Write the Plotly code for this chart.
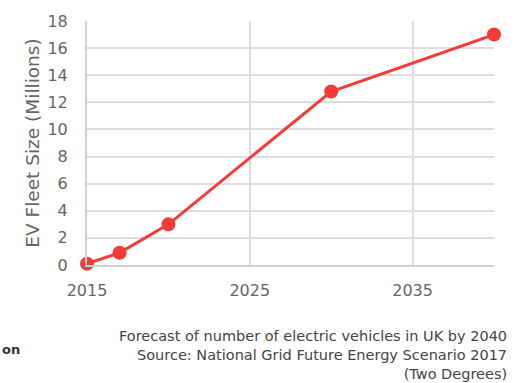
import plotly.graph_objects as go

years = [2015, 2017, 2020, 2030, 2040]
fleet_millions = [0.1, 0.9, 3.0, 12.8, 17.0]
x_ticks = [2015, 2025, 2035]
y_ticks = [0, 2, 4, 6, 8, 10, 12, 14, 16, 18]
caption = ("Forecast of number of electric vehicles in UK by 2040<br>"
           "Source: National Grid Future Energy Scenario 2017<br>"
           "(Two Degrees)")

RED = "#f43b38"
GRID = "#dddddd"
TICK = "#666666"
FONT = "DejaVu Sans"

fig = go.Figure()
fig.add_trace(go.Scatter(
    x=years, y=fleet_millions, mode="lines+markers",
    line=dict(color=RED, width=3),
    marker=dict(color=RED, size=14),
    cliponaxis=False, showlegend=False,
))

fig.update_layout(
    width=532, height=383,
    margin=dict(l=87, r=38, t=18, b=118),
    paper_bgcolor="white", plot_bgcolor="white",
    font=dict(family=FONT, color=TICK),
    xaxis=dict(
        range=[2015, 2040], tickvals=x_ticks, ticktext=[str(v) for v in x_ticks],
        showgrid=True, gridcolor=GRID, gridwidth=1.5,
        showline=True, linecolor="#d0d0d0", linewidth=2,
        zeroline=False, ticks="", ticklabelstandoff=10,
        tickfont=dict(size=16, color=TICK, family=FONT),
    ),
    yaxis=dict(
        range=[0, 18], tickvals=y_ticks,
        showgrid=True, gridcolor=GRID, gridwidth=1.5,
        showline=True, linecolor="#d0d0d0", linewidth=2,
        zeroline=False, ticks="", ticklabelstandoff=14,
        tickfont=dict(size=16, color=TICK, family=FONT),
        title=dict(text="EV Fleet Size (Millions)", standoff=3,
                   font=dict(size=18.5, color=TICK, family=FONT)),
    ),
)

fig.add_annotation(
    xref="paper", yref="paper", x=1.037, y=-0.25,
    xanchor="right", yanchor="top", align="right",
    text=caption, showarrow=False,
    font=dict(size=14.5, color="#444444", family=FONT),
)
fig.add_annotation(
    xref="paper", yref="paper", x=-0.214, y=-0.345,
    xanchor="left", yanchor="middle", align="left",
    text="<b>on</b>", showarrow=False,
    font=dict(size=13, color="#333333", family=FONT),
)

fig.write_html("out.html")
